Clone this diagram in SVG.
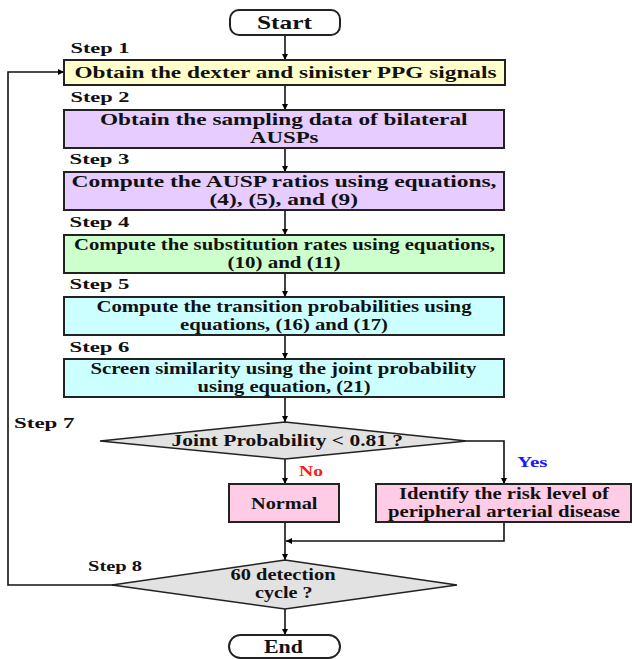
<svg xmlns="http://www.w3.org/2000/svg" width="632" height="659" viewBox="0 0 632 659" font-family="'Liberation Serif', 'Times New Roman', Times, serif">
<defs>
<marker id="ah" viewBox="0 0 10 10" refX="10" refY="5" markerWidth="6" markerHeight="6" markerUnits="userSpaceOnUse" orient="auto">
<path d="M0,0 L10,5 L0,10 z" fill="#000"/>
</marker>
<style>
text{font-family:'Liberation Serif','Times New Roman',Times,serif;font-weight:bold;fill:#111;}
.t{font-size:16px;}
.s{font-size:15.5px;}
.big{font-size:19px;}
.box{stroke:#222;stroke-width:2;}
.term{fill:#fff;stroke:#222;stroke-width:2;}
.dia{fill:#e2e2e2;stroke:#222;stroke-width:1.5;}
.c{fill:none;stroke:#111;stroke-width:1.6;}
.y{fill:#ffffcc;}.p{fill:#e6ccff;}.g{fill:#ccffcc;}.cy{fill:#ccffff;}.pk{fill:#ffcce6;}
</style>
</defs>
<rect width="632" height="659" fill="#fff"/>
<g id="connectors">
<line class="c" x1="285" y1="35" x2="285" y2="60" marker-end="url(#ah)"/>
<line class="c" x1="285" y1="85" x2="285" y2="110" marker-end="url(#ah)"/>
<line class="c" x1="285" y1="148" x2="285" y2="172" marker-end="url(#ah)"/>
<line class="c" x1="285" y1="210" x2="285" y2="235" marker-end="url(#ah)"/>
<line class="c" x1="285" y1="273" x2="285" y2="297" marker-end="url(#ah)"/>
<line class="c" x1="285" y1="335" x2="285" y2="359" marker-end="url(#ah)"/>
<line class="c" x1="285" y1="397" x2="285" y2="422" marker-end="url(#ah)"/>
<line class="c" x1="285" y1="459" x2="285" y2="484" marker-end="url(#ah)"/>
<polyline class="c" points="467,441 504,441 504,484" marker-end="url(#ah)"/>
<polyline class="c" points="504,522 504,541 286,541" marker-end="url(#ah)"/>
<line class="c" x1="285" y1="522" x2="285" y2="560" marker-end="url(#ah)"/>
<polyline class="c" points="114,585 8,585 8,72 64,72" marker-end="url(#ah)"/>
<line class="c" x1="285" y1="609" x2="285" y2="635" marker-end="url(#ah)"/>
</g>
<g id="labels">
<text class="s" x="70.5" y="52.5" textLength="59" lengthAdjust="spacingAndGlyphs">Step 1</text>
<text class="s" x="70.5" y="101.5" textLength="59" lengthAdjust="spacingAndGlyphs">Step 2</text>
<text class="s" x="69.5" y="164" textLength="60" lengthAdjust="spacingAndGlyphs">Step 3</text>
<text class="s" x="69.5" y="226.5" textLength="60" lengthAdjust="spacingAndGlyphs">Step 4</text>
<text class="s" x="69.5" y="289" textLength="60" lengthAdjust="spacingAndGlyphs">Step 5</text>
<text class="s" x="69.5" y="351.5" textLength="60" lengthAdjust="spacingAndGlyphs">Step 6</text>
<text class="s" x="14" y="427.5" textLength="60.5" lengthAdjust="spacingAndGlyphs">Step 7</text>
<text class="s" x="88" y="571" textLength="54" lengthAdjust="spacingAndGlyphs">Step 8</text>
<text class="s" x="517" y="466.5" textLength="30.5" lengthAdjust="spacingAndGlyphs" style="fill:#1a1aff">Yes</text>
<text class="s" x="299" y="476" textLength="24" lengthAdjust="spacingAndGlyphs" style="fill:#ff1a1a">No</text>
</g>
<g id="start">
<rect class="term" x="230" y="10" width="110" height="25" rx="9"/>
<text class="big" x="257" y="29" textLength="55" lengthAdjust="spacingAndGlyphs">Start</text>
</g>
<g id="step1">
<rect class="box y" x="64" y="60" width="441" height="25"/>
<text class="t" x="74.5" y="77.5" textLength="422" lengthAdjust="spacingAndGlyphs">Obtain the dexter and sinister PPG signals</text>
</g>
<g id="step2">
<rect class="box p" x="64" y="110" width="440" height="38"/>
<text class="t" x="100" y="124.5" textLength="367.5" lengthAdjust="spacingAndGlyphs">Obtain the sampling data of bilateral</text>
<text class="t" x="250" y="142.5" textLength="68.5" lengthAdjust="spacingAndGlyphs">AUSPs</text>
</g>
<g id="step3">
<rect class="box p" x="64" y="172" width="440" height="38"/>
<text class="t" x="71.5" y="186.5" textLength="425" lengthAdjust="spacingAndGlyphs">Compute the AUSP ratios using equations,</text>
<text class="t" x="209.5" y="205" textLength="148.5" lengthAdjust="spacingAndGlyphs">(4), (5), and (9)</text>
</g>
<g id="step4">
<rect class="box g" x="64" y="235" width="440" height="38"/>
<text class="t" x="74" y="249.5" textLength="421" lengthAdjust="spacingAndGlyphs">Compute the substitution rates using equations,</text>
<text class="t" x="227.5" y="267.5" textLength="113" lengthAdjust="spacingAndGlyphs">(10) and (11)</text>
</g>
<g id="step5">
<rect class="box cy" x="64" y="297" width="440" height="38"/>
<text class="t" x="96.5" y="311.5" textLength="375" lengthAdjust="spacingAndGlyphs">Compute the transition probabilities using</text>
<text class="t" x="180" y="329.5" textLength="208" lengthAdjust="spacingAndGlyphs">equations, (16) and (17)</text>
</g>
<g id="step6">
<rect class="box cy" x="64" y="359" width="440" height="38"/>
<text class="t" x="90.5" y="373.5" textLength="386" lengthAdjust="spacingAndGlyphs">Screen similarity using the joint probability</text>
<text class="t" x="197.5" y="391.5" textLength="173" lengthAdjust="spacingAndGlyphs">using equation, (21)</text>
</g>
<g id="decision1">
<polygon class="dia" points="285,422 467,441 285,459 100,441"/>
<text class="t" x="171.5" y="446" textLength="231.5" lengthAdjust="spacingAndGlyphs">Joint Probability &lt; 0.81 ?</text>
</g>
<g id="normal">
<rect class="box pk" x="229" y="484" width="110" height="38"/>
<text class="t" x="251" y="508.5" textLength="66.5" lengthAdjust="spacingAndGlyphs">Normal</text>
</g>
<g id="identify">
<rect class="box pk" x="376" y="484" width="255" height="38"/>
<text class="t" x="399" y="499" textLength="210" lengthAdjust="spacingAndGlyphs">Identify the risk level of</text>
<text class="t" x="388" y="517" textLength="232" lengthAdjust="spacingAndGlyphs">peripheral arterial disease</text>
</g>
<g id="decision2">
<polygon class="dia" points="285,560 457,585 285,609 112,585"/>
<text class="t" x="230.5" y="579.5" textLength="105" lengthAdjust="spacingAndGlyphs">60 detection</text>
<text class="t" x="255" y="597.5" textLength="57.5" lengthAdjust="spacingAndGlyphs">cycle ?</text>
</g>
<g id="end">
<rect class="term" x="229" y="635" width="111" height="23" rx="11.5"/>
<text class="big" x="264" y="653" textLength="39" lengthAdjust="spacingAndGlyphs">End</text>
</g>
</svg>
